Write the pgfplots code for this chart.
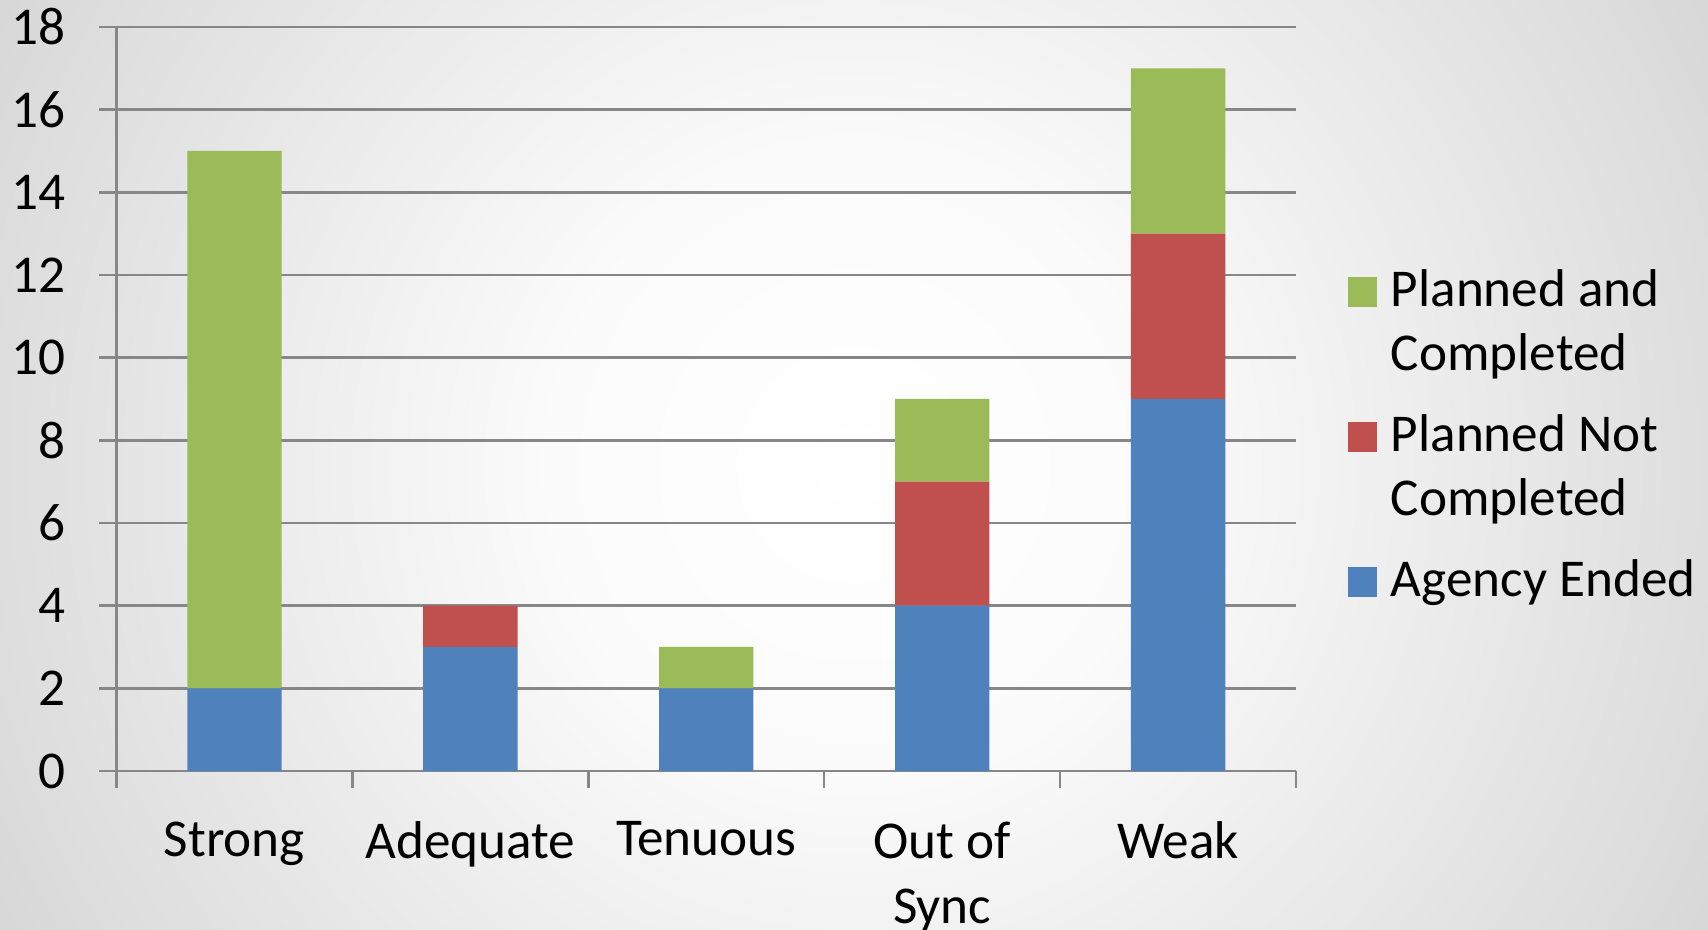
\documentclass[border=0pt]{standalone}
\usepackage{fontspec}
\setmainfont{Carlito}
\usepackage{pgfplots}
\pgfplotsset{compat=1.18}
\definecolor{cgreen}{HTML}{9BBB59}
\definecolor{cred}{HTML}{C0504D}
\definecolor{cblue}{HTML}{4F81BD}
\definecolor{gridgray}{HTML}{878787}
\definecolor{bgA}{gray}{1.0}
\definecolor{bgB}{gray}{0.985}
\definecolor{bgC}{gray}{0.855}
\definecolor{bgD}{gray}{0.67}
\definecolor{bgE}{gray}{0.65}
\pgfdeclareradialshading{bgshade}{\pgfpoint{0bp}{0bp}}{color(0bp)=(bgA); color(7.5bp)=(bgB); color(23.25bp)=(bgC); color(42.7bp)=(bgD); color(48.3bp)=(bgE); color(100bp)=(bgE)}
\begin{document}
\begin{tikzpicture}
\useasboundingbox (0,0) rectangle (427pt,232.25pt);
\clip (0,0) rectangle (427pt,232.25pt);
\fill[shading=bgshade] (213.5pt,116pt) circle[radius=250pt];
\begin{axis}[
    at={(29.125pt,39.5pt)}, anchor=south west,
    scale only axis, width=294.9pt, height=186pt,
    ybar stacked, bar width=0.4,
    xmin=0.5, xmax=5.5, ymin=0, ymax=18,
    ytick={0,2,...,18},
    xtick={0.5,1.5,...,5.5},
    x tick label as interval,
    xticklabels={Strong, Adequate, Tenuous, Out of\\Sync, Weak},
    axis lines*=left,
    axis line style={gridgray, line width=0.6pt},
    ymajorgrids, grid style={gridgray, line width=0.6pt},
    tick align=outside, major tick length=4.25pt,
    tick style={gridgray, line width=0.6pt},
    enlargelimits=false,
    /pgf/number format/assume math mode=true,
    tick label style={font=\fontsize{13.3}{16.3}\selectfont, black},
    yticklabel style={xshift=-4.9pt},
    xticklabel style={align=center, yshift=-4.9pt},
    reverse legend,
    legend style={at={(1.043,0.685)}, anchor=north west, draw=none, fill=none,
        inner sep=0pt, row sep=4.25pt, column sep=3.4pt,
        nodes={inner sep=0pt, text depth=, anchor=base west, font=\fontsize{13.3}{16}\selectfont}},
    legend image code/.code={\fill[#1] (0pt,0pt) rectangle (7.4pt,7.4pt);},
]
\addplot[fill=cblue, draw=none] coordinates {(1,2) (2,3) (3,2) (4,4) (5,9)};
\addlegendentry{\begin{tabular}[t]{@{}l@{}}Agency Ended\end{tabular}}
\addplot[fill=cred, draw=none] coordinates {(1,0) (2,1) (3,0) (4,3) (5,4)};
\addlegendentry{\begin{tabular}[t]{@{}l@{}}Planned Not\\Completed\end{tabular}}
\addplot[fill=cgreen, draw=none] coordinates {(1,13) (2,0) (3,1) (4,2) (5,4)};
\addlegendentry{\begin{tabular}[t]{@{}l@{}}Planned and\\Completed\end{tabular}}
\end{axis}
\end{tikzpicture}
\end{document}
